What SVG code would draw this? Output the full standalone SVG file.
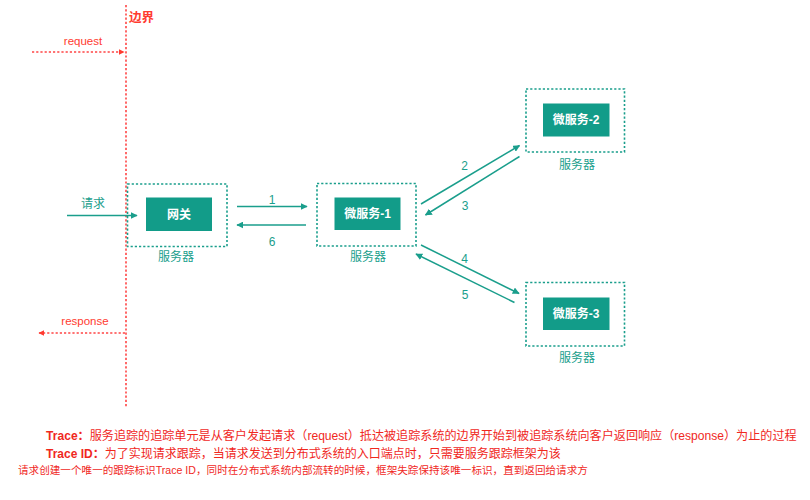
<svg xmlns="http://www.w3.org/2000/svg" width="810" height="500" viewBox="0 0 810 500">
<style>
  text { font-family: "Liberation Sans", "Noto Sans CJK SC", sans-serif; }
  .outer { fill: none; stroke: #1a9e8c; stroke-width: 1.6; stroke-dasharray: 2.2 2; }
  .inner { fill: #129c89; stroke: none; }
  .ntext { fill: #ffffff; font-size: 12px; font-weight: bold; text-anchor: middle; }
  .srv { fill: #1a9e8c; font-size: 12px; text-anchor: middle; }
  .conn { stroke: #1a9e8c; stroke-width: 1.5; fill: none; marker-end: url(#ah); }
  .clabel { fill: #1a9e8c; font-size: 12px; text-anchor: middle; }
  .red { stroke: #ff4545; stroke-width: 1.6; stroke-dasharray: 2.2 2; fill: none; }
  .rtext { fill: #ff3b30; font-size: 11.5px; }
  .note { fill: #f0281e; }
</style>
<defs>
  <marker id="ah" viewBox="0 0 10 10" refX="9" refY="5" markerWidth="7" markerHeight="7" markerUnits="userSpaceOnUse" orient="auto">
    <path d="M0,0 L10,5 L0,10 z" fill="#1a9e8c"/>
  </marker>
  <marker id="rh" viewBox="0 0 10 10" refX="9" refY="5" markerWidth="6" markerHeight="6" markerUnits="userSpaceOnUse" orient="auto">
    <path d="M0,0 L10,5 L0,10 z" fill="#ff3b30"/>
  </marker>
</defs>
<rect width="810" height="500" fill="#ffffff"/>

<g id="boundary">
  <line class="red" x1="126" y1="5" x2="126" y2="408"/>
  <text x="129" y="22" fill="#ff3b30" font-size="12.5px" font-weight="bold">边界</text>
</g>

<g id="request">
  <line class="red" x1="32" y1="52" x2="124" y2="52" marker-end="url(#rh)"/>
  <text class="rtext" x="83" y="45" text-anchor="middle">request</text>
</g>

<g id="response">
  <line class="red" x1="125" y1="333" x2="39" y2="333" marker-end="url(#rh)"/>
  <text class="rtext" x="85" y="325" text-anchor="middle">response</text>
</g>

<g id="gateway">
  <rect class="outer" x="127.5" y="184" width="99.5" height="62.5"/>
  <rect class="inner" x="146" y="197.5" width="66" height="33.5"/>
  <text class="ntext" x="179" y="218.5">网关</text>
  <text class="srv" x="176" y="261">服务器</text>
</g>

<g id="ms1">
  <rect class="outer" x="317" y="183.5" width="99" height="62.5"/>
  <rect class="inner" x="334.5" y="197.5" width="66" height="32.5"/>
  <text class="ntext" x="367.5" y="218">微服务-1</text>
  <text class="srv" x="368" y="261">服务器</text>
</g>

<g id="ms2">
  <rect class="outer" x="526" y="89" width="98.5" height="63"/>
  <rect class="inner" x="543" y="103.5" width="66.5" height="33"/>
  <text class="ntext" x="576" y="124">微服务-2</text>
  <text class="srv" x="577" y="169">服务器</text>
</g>

<g id="ms3">
  <rect class="outer" x="526" y="282.5" width="98.5" height="63.5"/>
  <rect class="inner" x="543" y="297.5" width="66.5" height="32.5"/>
  <text class="ntext" x="576" y="318">微服务-3</text>
  <text class="srv" x="577" y="362">服务器</text>
</g>

<g id="connectors">
  <line class="conn" x1="67" y1="215.5" x2="137" y2="215.5"/>
  <text class="clabel" x="93" y="208">请求</text>

  <line class="conn" x1="237" y1="206.5" x2="307" y2="206.5"/>
  <text class="clabel" x="272" y="204">1</text>

  <line class="conn" x1="306" y1="225" x2="237" y2="225"/>
  <text class="clabel" x="272" y="246">6</text>

  <line class="conn" x1="421" y1="204" x2="519.5" y2="145.5"/>
  <text class="clabel" x="464.5" y="170">2</text>

  <line class="conn" x1="519.5" y1="156.5" x2="425.5" y2="215"/>
  <text class="clabel" x="465" y="210">3</text>

  <line class="conn" x1="421" y1="245" x2="519" y2="293.5"/>
  <text class="clabel" x="464.5" y="262.5">4</text>

  <line class="conn" x1="514.5" y1="302.5" x2="416" y2="254"/>
  <text class="clabel" x="465" y="299">5</text>
</g>

<g id="notes">
  <text class="note" x="46" y="440" style="font-size:12.1px"><tspan font-weight="bold">Trace：</tspan>服务追踪的追踪单元是从客户发起请求（request）抵达被追踪系统的边界开始到被追踪系统向客户返回响应（response）为止的过程</text>
  <text class="note" x="46" y="458" style="font-size:12px"><tspan font-weight="bold">Trace ID：</tspan>为了实现请求跟踪，当请求发送到分布式系统的入口端点时，只需要服务跟踪框架为该</text>
  <text class="note" x="18" y="474" style="font-size:10.6px">请求创建一个唯一的跟踪标识Trace ID，同时在分布式系统内部流转的时候，框架失踪保持该唯一标识，直到返回给请求方</text>
</g>
</svg>
